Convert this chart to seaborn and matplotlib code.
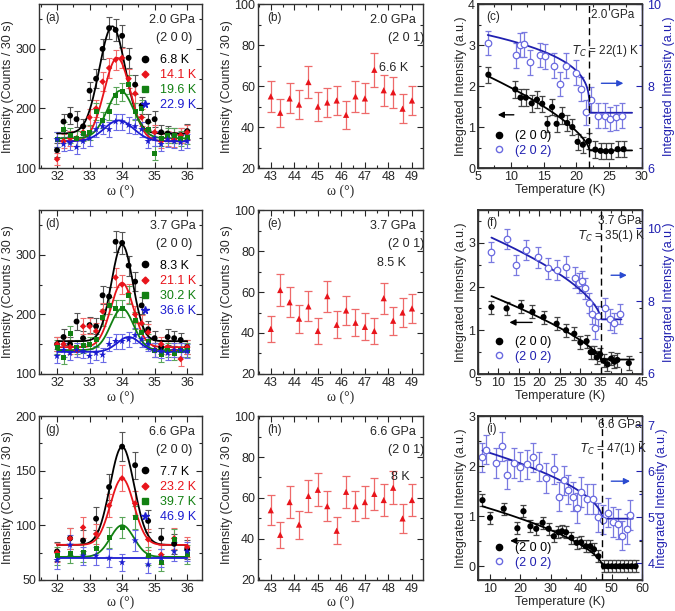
import numpy as np
import seaborn as sns
import matplotlib.pyplot as plt
from matplotlib.lines import Line2D
from matplotlib.ticker import MultipleLocator

sns.set_theme(style="ticks")
plt.rcParams['font.family'] = ['Liberation Sans', 'DejaVu Sans']
plt.rcParams['xtick.direction'] = 'in'
plt.rcParams['ytick.direction'] = 'in'
plt.rcParams['font.size'] = 9

# ---------------- (2 0 0) rocking scans ----------------
omega_a = [32.0, 32.2, 32.4, 32.6, 32.8, 33.0, 33.2, 33.4, 33.6, 33.8, 34.0,
           34.2, 34.4, 34.6, 34.8, 35.0, 35.2, 35.4, 35.6, 35.8, 36.0]
a_temps = ["6.8 K", "14.1 K", "19.6 K", "22.9 K"]
a_6p8 = [130, 178, 188, 182, 170, 230, 250, 300, 335, 332, 322, 285, 240, 205, 178, 182, 160, 158, 155, 155, 162]
a_14p1 = [115, 145, 150, 150, 160, 185, 200, 245, 268, 282, 285, 250, 225, 185, 165, 160, 145, 150, 148, 155, 160]
a_19p6 = [148, 165, 155, 150, 158, 160, 195, 180, 195, 222, 228, 240, 195, 200, 165, 125, 150, 155, 155, 150, 152]
a_22p9 = [148, 140, 142, 135, 145, 150, 165, 170, 165, 178, 178, 172, 170, 165, 145, 150, 140, 148, 145, 143, 145]
# gaussian fit parameters: centre, amplitude, sigma, background
a_fits = [(33.70, 180, 0.40, 158), (33.85, 140, 0.40, 145), (33.95, 80, 0.40, 150), (33.90, 35, 0.45, 145)]

d_temps = ["8.3 K", "21.1 K", "30.2 K", "36.6 K"]
d_8p3 = [150, 162, 150, 188, 160, 182, 180, 232, 230, 322, 320, 282, 255, 215, 175, 160, 145, 162, 160, 157, 145]
d_21p1 = [150, 150, 145, 140, 180, 180, 172, 205, 215, 262, 250, 235, 200, 185, 170, 140, 150, 145, 140, 125, 145]
d_30p2 = [145, 128, 168, 145, 148, 150, 158, 195, 215, 210, 210, 232, 190, 170, 155, 140, 132, 140, 135, 140, 140]
d_36p6 = [130, 140, 135, 140, 138, 130, 135, 132, 150, 155, 155, 158, 165, 158, 150, 140, 138, 135, 140, 140, 138]
d_fits = [(34.0, 162, 0.33, 155), (34.0, 108, 0.35, 145), (34.0, 70, 0.35, 140), (34.2, 25, 0.35, 137)]

omega_g = [32.0, 32.4, 32.8, 33.2, 33.6, 34.0, 34.4, 34.8, 35.2, 35.6, 36.0]
g_temps = ["7.7 K", "23.2 K", "39.7 K", "46.9 K"]
g_7p7 = [76, 88, 86, 106, 135, 172, 155, 104, 88, 83, 78]
g_23p2 = [75, 88, 98, 92, 118, 143, 120, 87, 73, 88, 80]
g_39p7 = [72, 74, 75, 79, 89, 98, 107, 72, 66, 87, 73]
g_46p9 = [68, 82, 72, 72, 70, 66, 86, 64, 70, 76, 76]
g_fits = [(34.0, 90, 0.37, 82), (34.0, 61, 0.36, 82), (34.0, 29, 0.36, 71), (34.0, 0, 0.30, 70)]

# ---------------- (2 0 1) scans ----------------
omega_201 = [43.0, 43.4, 43.8, 44.2, 44.6, 45.0, 45.4, 45.8, 46.2, 46.6, 47.0, 47.4, 47.8, 48.2, 48.6, 49.0]
b_201 = [55, 47, 54, 51, 62, 50, 52, 53, 46, 55, 54, 68, 58, 57, 49, 53]
e_201 = [42, 61, 55, 47, 53, 41, 58, 44, 51, 45, 43, 41, 57, 46, 50, 52]
h_201 = [54, 42, 58, 47, 61, 64, 56, 44, 63, 56, 58, 62, 59, 65, 50, 59]

# ---------------- integrated intensity vs T ----------------
c_T200 = [6.6, 10.7, 11.5, 12.3, 13.2, 14.0, 14.8, 15.6, 16.3, 17.0, 17.8, 18.6, 19.4, 20.2, 21.0, 21.9, 22.9, 23.7, 24.5, 25.3, 26.3, 27.2]
c_I200 = [2.28, 1.92, 1.72, 1.72, 1.58, 1.67, 1.57, 1.08, 1.49, 1.08, 1.28, 1.10, 1.00, 0.64, 0.57, 0.66, 0.45, 0.42, 0.41, 0.41, 0.46, 0.46]
c_T202 = [6.5, 10.8, 11.4, 12.1, 13.0, 14.5, 15.2, 16.6, 17.5, 18.4, 19.9, 20.7, 21.5, 22.3, 23.3, 24.4, 25.2, 26.1, 26.9]
c_I202 = [9.05, 8.75, 9.0, 9.02, 8.58, 8.76, 8.73, 8.5, 8.05, 8.5, 8.33, 7.93, 7.36, 7.67, 7.28, 7.28, 7.2, 7.24, 7.28]

f_T200 = [8.3, 12.0, 15.5, 18.3, 21.0, 24.2, 26.5, 28.5, 30.0, 31.5, 32.5, 33.2, 34.0, 34.8, 35.7, 36.6, 37.5, 38.3, 39.0, 41.8]
f_I200 = [1.53, 1.50, 1.55, 1.42, 1.30, 1.15, 1.00, 0.92, 0.72, 0.75, 0.50, 0.50, 0.38, 0.45, 0.30, 0.22, 0.35, 0.28, 0.32, 0.25]
f_T202 = [8.3, 12.0, 14.2, 16.8, 19.7, 22.2, 24.3, 26.5, 28.8, 29.6, 30.5, 31.2, 32.0, 32.8, 33.5, 34.3, 36.0, 37.2, 38.2, 39.7]
f_I202 = [9.35, 9.70, 9.00, 9.40, 9.20, 8.90, 8.85, 8.95, 8.65, 8.50, 8.55, 8.35, 7.95, 7.65, 7.25, 7.60, 7.80, 7.50, 7.40, 7.65]

i_T200 = [7.5, 10.0, 14.5, 19.0, 21.0, 23.3, 25.2, 27.3, 29.3, 31.0, 32.5, 33.7, 35.0, 36.8, 38.5, 40.0, 41.5, 43.0, 44.2, 45.7,
          47.5, 48.8, 50.1, 51.4, 52.7, 54.0, 55.3, 56.6, 57.9]
i_I200 = [1.32, 0.97, 1.15, 0.76, 1.10, 0.80, 0.75, 0.87, 0.75, 0.60, 0.68, 0.70, 0.68, 0.57, 0.47, 0.48, 0.40, 0.40, 0.34, 0.20,
          0, 0, 0, 0, 0, 0, 0, 0, 0]
i_T202 = [7.5, 8.7, 12.0, 13.8, 15.7, 18.0, 20.0, 22.0, 24.2, 26.2, 28.5, 31.0, 32.7, 34.3, 35.6, 37.2, 38.7, 40.0, 42.0, 43.8,
          45.5, 47.2, 48.8, 50.5, 52.2, 53.5, 55.0, 56.2]
i_I202 = [6.30, 6.47, 6.18, 6.54, 5.93, 6.18, 6.10, 6.15, 6.30, 6.10, 5.85, 6.05, 5.45, 5.80, 5.60, 5.45, 5.20, 5.55, 5.40, 5.40,
          5.00, 4.95, 5.10, 4.90, 4.85, 4.60, 4.75, 5.05]
# order-parameter fits: Tc, amplitude, exponent, background, T start, T end
c_fit200 = (22, 2.29, 0.66, 0.43, 6.8, 28.5)
c_fit202 = (22, 2.11, 0.30, 7.35, 6.5, 28.5)
f_fit200 = (35, 1.76, 0.71, 0.33, 8.3, 43)
f_fit202 = (35, 2.65, 0.61, 7.50, 8.3, 40)
i_fit200 = (47, 1.33, 0.60, 0.00, 7.5, 58)
i_fit202 = (47, 1.63, 0.55, 4.97, 7.5, 57)

colors = ['black', '#e8141b', '#128012', '#1b1bd0']
ecolors = ['#555555', '#f06a6a', '#5aa55a', '#6a6ae6']
markers = ['o', 'D', 's', '*']
sizes = [18, 11, 13, 30]
blue_r = '#2020b0'

fig = plt.figure(figsize=(6.75, 6.11), dpi=100)
col_x = [0.058, 0.382, 0.708]
col_w = [0.241, 0.244, 0.243]
row_y = [0.725, 0.388, 0.051]
row_h = 0.268


def style_axes(ax):
    for s in ax.spines.values():
        s.set_linewidth(1.0)
        s.set_color('#333333')
    ax.tick_params(which='both', top=True, right=True, labelsize=9, width=0.8, pad=2)
    ax.tick_params(which='major', length=4)
    ax.tick_params(which='minor', length=2)


def scan_panel(ax, omega, series, fits, temps, ylim, yticks, tag, pressure):
    xs = np.linspace(32, 36, 300)
    for k, (y, p) in enumerate(zip(series, fits)):
        c, a, s, b = p
        sns.lineplot(x=xs, y=b + a * np.exp(-(xs - c) ** 2 / (2 * s ** 2)), color=colors[k], lw=1.3, ax=ax, zorder=2)
    for k, y in enumerate(series):
        ax.errorbar(omega, y, yerr=np.sqrt(y), fmt='none', ecolor=ecolors[k], elinewidth=0.8, capsize=2.2, capthick=0.8, zorder=1)
        sns.scatterplot(x=omega, y=y, marker=markers[k], color=colors[k], s=sizes[k], edgecolor='none', ax=ax, zorder=3)
    ax.set_xlim(31.45, 36.45)
    ax.set_ylim(*ylim)
    ax.set_xticks([32, 33, 34, 35, 36])
    ax.set_yticks(yticks)
    ax.xaxis.set_minor_locator(MultipleLocator(0.5))
    ax.yaxis.set_minor_locator(MultipleLocator((yticks[1] - yticks[0]) / 2))
    ax.set_xlabel('ω (°)', family='Liberation Serif', fontsize=10, labelpad=1)
    ax.set_ylabel('Intensity (Counts / 30 s)', fontsize=9, labelpad=1)
    ax.text(0.04, 0.95, tag, transform=ax.transAxes, ha='left', va='top', fontsize=8.5)
    ax.text(0.96, 0.94, pressure, transform=ax.transAxes, ha='right', va='top', fontsize=9)
    ax.text(0.83, 0.83, '(2 0 0)', transform=ax.transAxes, ha='center', va='top', fontsize=9)
    handles = [Line2D([], [], ls='none', marker=markers[k], color=colors[k], ms=[4.5, 3.5, 4, 5.5][k]) for k in range(4)]
    ax.legend(handles, temps, loc='upper right', bbox_to_anchor=(1.02, 0.75), frameon=False, fontsize=9,
              handletextpad=0.6, labelspacing=0.25, handlelength=1.2, borderpad=0.2, labelcolor=colors)
    style_axes(ax)


def flat_panel(ax, y, tag, pressure, temp, temp_xy):
    ax.errorbar(omega_201, y, yerr=np.sqrt(y), fmt='none', ecolor='#ee6a6a', elinewidth=0.9, capsize=3, capthick=0.9, zorder=1)
    sns.scatterplot(x=omega_201, y=y, marker='^', color='#e8141b', s=20, edgecolor='none', ax=ax, zorder=3)
    ax.set_xlim(42.45, 49.45)
    ax.set_ylim(20, 100)
    ax.set_xticks([43, 44, 45, 46, 47, 48, 49])
    ax.set_yticks([20, 40, 60, 80, 100])
    ax.xaxis.set_minor_locator(MultipleLocator(0.5))
    ax.yaxis.set_minor_locator(MultipleLocator(10))
    ax.set_xlabel('ω (°)', family='Liberation Serif', fontsize=10, labelpad=1)
    ax.set_ylabel('Intensity (Counts / 30 s)', fontsize=9, labelpad=1)
    ax.text(0.06, 0.95, tag, transform=ax.transAxes, ha='left', va='top', fontsize=8.5)
    ax.text(0.96, 0.94, pressure, transform=ax.transAxes, ha='right', va='top', fontsize=9)
    ax.text(0.90, 0.83, '(2 0 1)', transform=ax.transAxes, ha='center', va='top', fontsize=9)
    ax.text(temp_xy[0], temp_xy[1], temp, ha='left', va='center', fontsize=9)
    style_axes(ax)


def op_curve(T, p):
    tc, a, ex, bg, t0, t1 = p
    return np.where(T < tc, bg + a * np.clip(1 - T / tc, 0, None) ** ex, bg)


def temp_panel(ax, T1, I1, e1, T2, I2, e2, f1, f2, xlim, xt, ylim, yt, ylim2, yt2, tag, pressure, tc_text,
               p_xy, tc_xy, arr_l, arr_r):
    ax2 = ax.twinx()
    ax.errorbar(T1, I1, yerr=e1, fmt='none', ecolor='#444444', elinewidth=0.9, capsize=2.5, capthick=0.9, zorder=1)
    sns.scatterplot(x=T1, y=I1, marker='o', color='black', s=20, edgecolor='none', ax=ax, zorder=3)
    ts = np.linspace(f1[4], f1[5], 400)
    sns.lineplot(x=ts, y=op_curve(ts, f1), color='black', lw=1.3, ax=ax, zorder=2)
    ax2.errorbar(T2, I2, yerr=e2, fmt='none', ecolor='#7a7ae0', elinewidth=0.9, capsize=2.5, capthick=0.9, zorder=1)
    sns.scatterplot(x=T2, y=I2, marker='o', facecolor='white', edgecolor='#6a6ae0', linewidth=0.9, s=22, ax=ax2, zorder=3)
    ts = np.linspace(f2[4], f2[5], 400)
    sns.lineplot(x=ts, y=op_curve(ts, f2), color=blue_r, lw=1.3, ax=ax2, zorder=2)
    ax.axvline(f1[0], color='black', ls=(0, (5, 3)), lw=1.0)
    ax.set_xlim(*xlim)
    ax.set_xticks(xt)
    ax.set_ylim(*ylim)
    ax.set_yticks(yt)
    ax2.set_ylim(*ylim2)
    ax2.set_yticks(yt2)
    ax.xaxis.set_minor_locator(MultipleLocator((xt[1] - xt[0]) / 2))
    ax.yaxis.set_minor_locator(MultipleLocator(0.5))
    ax2.yaxis.set_minor_locator(MultipleLocator((yt2[1] - yt2[0]) / 2))
    ax.set_xlabel('Temperature (K)', fontsize=9, labelpad=1)
    ax.set_ylabel('Integrated Intensity (a.u.)', fontsize=9, labelpad=1)
    ax2.set_ylabel('Integrated Intensity (a.u.)', fontsize=9, color=blue_r, labelpad=1)
    ax.text(0.05, 0.96, tag, transform=ax.transAxes, ha='left', va='top', fontsize=8.5)
    ax.text(p_xy[0], p_xy[1], pressure, ha='left', va='top', fontsize=8.5)
    ax.text(tc_xy[0], tc_xy[1], r'$T_C$ = ' + tc_text, ha='left', va='center', fontsize=8.5)
    ax.annotate('', xy=arr_l[1], xytext=arr_l[0],
                arrowprops=dict(arrowstyle='-|>', color='black', lw=1.0, mutation_scale=9))
    ax.annotate('', xy=arr_r[1], xytext=arr_r[0],
                arrowprops=dict(arrowstyle='-|>', color='#2a4ad0', lw=1.0, mutation_scale=9))
    handles = [Line2D([], [], ls='none', marker='o', color='black', ms=4.5),
               Line2D([], [], ls='none', marker='o', mfc='white', mec='#6a6ae0', ms=4.5)]
    ax.legend(handles, ['(2 0 0)', '(2 0 2)'], loc='lower left', bbox_to_anchor=(0.02, 0.0), frameon=False,
              fontsize=9, handletextpad=0.8, labelspacing=0.2, handlelength=1.0, labelcolor=['black', blue_r])
    style_axes(ax)
    ax.tick_params(right=False)
    ax2.tick_params(which='both', direction='in', colors=blue_r, labelsize=9, width=0.8, pad=4)
    ax2.tick_params(which='major', length=4)
    ax2.tick_params(which='minor', length=2)
    ax2.spines['right'].set_color(blue_r)
    ax2.spines['right'].set_linewidth(1.0)
    ax.set_zorder(ax2.get_zorder() + 1)
    ax.patch.set_visible(False)


axs = [[fig.add_axes([col_x[c], row_y[r], col_w[c], row_h]) for c in range(3)] for r in range(3)]

scan_panel(axs[0][0], omega_a, [a_6p8, a_14p1, a_19p6, a_22p9], a_fits, a_temps, (100, 375), [100, 200, 300], '(a)', '2.0 GPa')
scan_panel(axs[1][0], omega_a, [d_8p3, d_21p1, d_30p2, d_36p6], d_fits, d_temps, (100, 375), [100, 200, 300], '(d)', '3.7 GPa')
scan_panel(axs[2][0], omega_g, [g_7p7, g_23p2, g_39p7, g_46p9], g_fits, g_temps, (50, 200), [50, 100, 150, 200], '(g)', '6.6 GPa')

flat_panel(axs[0][1], b_201, '(b)', '2.0 GPa', '6.6 K', (47.6, 69))
flat_panel(axs[1][1], e_201, '(e)', '3.7 GPa', '8.5 K', (47.5, 74))
flat_panel(axs[2][1], h_201, '(h)', '6.6 GPa', '8 K', (48.1, 70))

temp_panel(axs[0][2], c_T200, c_I200, 0.2, c_T202, c_I202, 0.3, c_fit200, c_fit202,
           (5, 30), [5, 10, 15, 20, 25, 30], (0, 4), [0, 1, 2, 3, 4], (6, 10), [6, 8, 10],
           '(c)', '2.0 GPa', '22(1) K', (22.2, 3.88), (19.3, 2.85),
           ((10.9, 1.3), (7.6, 1.3)), ((23.4, 2.07), (27.6, 2.07)))
temp_panel(axs[1][2], f_T200, f_I200, 0.15, f_T202, f_I202, 0.28, f_fit200, f_fit202,
           (5, 45), [5, 10, 15, 20, 25, 30, 35, 40, 45], (0, 3.75), [0, 1, 2, 3], (6, 10.5), [6, 8, 10],
           '(f)', '3.7 GPa', '35(1) K', (34.2, 3.65), (29.3, 3.15),
           ((18.9, 1.18), (12.0, 1.18)), ((36.8, 2.26), (42.0, 2.26)))
temp_panel(axs[2][2], i_T200, i_I200, 0.12, i_T202, i_I202, 0.32, i_fit200, i_fit202,
           (6, 60), [10, 20, 30, 40, 50, 60], (-0.27, 3.0), [0, 1, 2, 3], (3.64, 7.2), [4, 5, 6, 7],
           '(i)', '6.6 GPa', '47(1) K', (45.5, 2.95), (39.5, 2.35),
           ((23.7, 0.51), (15.7, 0.51)), ((49.0, 1.7), (57.0, 1.7)))

fig.savefig('out.png', dpi=100)
